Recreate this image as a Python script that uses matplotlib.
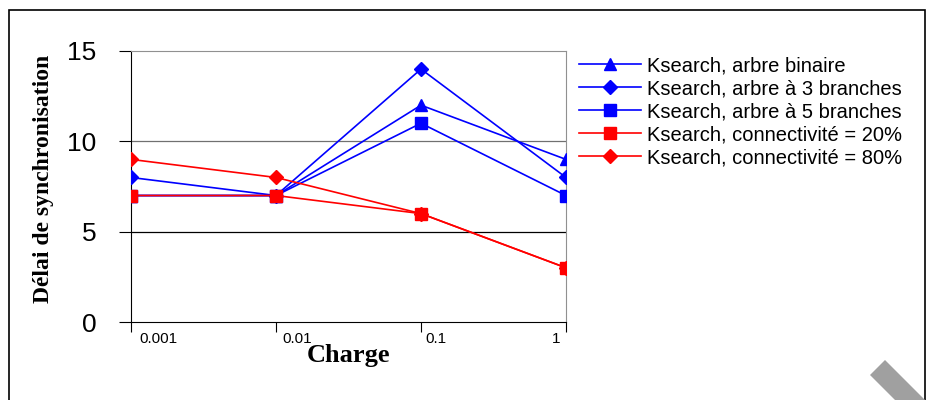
import numpy as np
import matplotlib as mpl
from matplotlib import pyplot as plt
from matplotlib.patches import Polygon, Rectangle
import matplotlib.transforms as mtransforms

mpl.rcParams['font.family'] = ['Liberation Sans', 'DejaVu Sans']

# data
charges = ['0.001', '0.01', '0.1', '1']
binaire = [7, 7, 12, 9]
trois_branches = [8, 7, 14, 8]
cinq_branches = [7, 7, 11, 7]
connect_20 = [7, 7, 6, 3]
connect_80 = [9, 8, 6, 3]

labels = ['Ksearch, arbre binaire',
          'Ksearch, arbre à 3 branches',
          'Ksearch, arbre à 5 branches',
          'Ksearch, connectivité = 20%',
          'Ksearch, connectivité = 80%']

fig = plt.figure(figsize=(9.27, 4.0), dpi=100)
ax = fig.add_axes([131/927, 78/400, 435/927, 271/400])

x = np.arange(len(charges))
lw = 1.2
ms = 9
l1, = ax.plot(x, binaire, '-^', color='#0000ff', lw=lw, ms=ms, zorder=3)
l2, = ax.plot(x, trois_branches, '-D', color='#0000ff', lw=lw, ms=ms-1.5, zorder=3)
l3, = ax.plot(x, cinq_branches, '-s', color='#0000ff', lw=lw, ms=ms, zorder=3)
l5, = ax.plot(x, connect_80, '-D', color='#ff0000', lw=lw, ms=ms-1.5, zorder=4)
l4, = ax.plot(x, connect_20, '-s', color='#ff0000', lw=lw, ms=ms, zorder=5)

ax.set_xlim(0, 3)
ax.set_ylim(0, 15)
ax.set_yticks([0, 5, 10, 15])
ax.tick_params(axis='y', labelsize=19, length=9, pad=16, direction='out')
ax.tick_params(axis='x', labelsize=11, length=7, pad=0, direction='out')
for v, c in [(5, 'black'), (10, '#707070')]:
    ax.axhline(v, color=c, lw=0.9, zorder=1)

ax.set_xticks(x)
ax.set_xticklabels(charges)
offsets = [8, 6, 4, -6]
for lab, dx in zip(ax.get_xticklabels(), offsets):
    lab.set_ha('left' if dx > 0 else 'right')
    lab.set_transform(lab.get_transform() +
                      mtransforms.ScaledTranslation(dx/100, 0, fig.dpi_scale_trans))

for s in ['top', 'right']:
    ax.spines[s].set_color('#909090')
for s in ['left', 'bottom']:
    ax.spines[s].set_color('black')

ax.set_xlabel('Charge', family='Liberation Serif', fontweight='bold',
              fontsize=19, labelpad=-1)
ax.set_ylabel('Délai de synchronisation', family='Liberation Serif',
              fontweight='bold', fontsize=17)
ax.yaxis.set_label_coords(-0.177, 0.528)

fig.legend([l1, l2, l3, l4, l5], labels, loc='upper left',
           bbox_to_anchor=(579/927, 1 - 56/400), frameon=False, fontsize=14.5,
           handlelength=3.1, handletextpad=0.3, labelspacing=0.2,
           borderpad=0, borderaxespad=0)

# outer frame and the grey stripe at the corner
fig.patches.append(Rectangle((9/927, -0.1), (925-9)/927, 1.1 - 10/400,
                             transform=fig.transFigure, fill=False,
                             edgecolor='black', lw=1.2))
fig.patches.append(Polygon([(870/927, 1-375/400), (885/927, 1-360/400),
                            (935/927, 1-410/400), (920/927, 1-425/400)],
                           closed=True, transform=fig.transFigure,
                           facecolor='#a0a0a0', edgecolor='none'))

fig.savefig('out.png', dpi=100)
